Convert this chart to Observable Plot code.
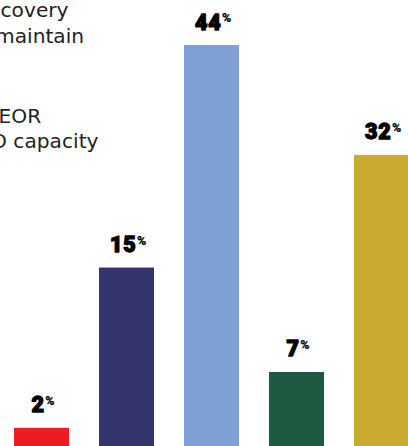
<!DOCTYPE html>
<html><head><meta charset="utf-8">
<script src="https://cdn.jsdelivr.net/npm/d3@7"></script>
<script src="https://cdn.jsdelivr.net/npm/@observablehq/plot@0.6"></script>
<style>
html,body{margin:0;padding:0;background:#fff;overflow:hidden;width:408px;height:446px}
#wrap{position:relative;width:408px;height:446px;overflow:hidden}
#legend{position:absolute;left:0;top:0;font-family:"DejaVu Sans";font-size:20.2px;line-height:24px;color:#231f20;white-space:nowrap}
#legend div{position:absolute}
</style></head><body>
<div id="wrap"><div id="chart"></div><div id="legend"></div></div>
<script>
// Data
const categories = ["A", "B", "C", "D", "E"];
const shares = [2, 15, 44, 7, 32];              // printed percentage labels
const barLengths = [2.2, 19.7, 44, 8.3, 32];    // bar lengths as drawn in the picture
const colors = ["#ed1c24", "#35356e", "#7fa0d5", "#1e5a42", "#c9a92f"];
const legendLines = ["covery", "maintain", "EOR", "O capacity"];

const data = categories.map((c, i) => ({cat: c, share: shares[i], len: barLengths[i], color: colors[i]}));

const plot = Plot.plot({
  width: 408,
  height: 446,
  margin: 0,
  style: {background: "transparent"},
  x: {domain: categories, range: [13, 410], paddingInner: 0.357, paddingOuter: 0, axis: null},
  y: {domain: [0, 44], range: [448, 45], axis: null},
  color: {type: "identity"},
  marks: [
    Plot.barY(data, {x: "cat", y: "len", fill: "color"}),
    Plot.text(data, {
      x: "cat", y: "len", text: d => String(d.share),
      lineAnchor: "bottom", dy: -16, dx: 1.5,
      fontSize: 21.5, fontWeight: 900, fill: "#000",
      stroke: "#000", strokeWidth: 1.3,
      fontFamily: "Roboto"
    })
  ]
});
document.getElementById("chart").appendChild(plot);

// superscript percent sign
plot.querySelectorAll('g[aria-label="text"] text').forEach(t => {
  t.style.letterSpacing = "0.8px";
  const s = document.createElementNS("http://www.w3.org/2000/svg", "tspan");
  s.textContent = "%";
  s.setAttribute("font-size", "12.5");
  s.setAttribute("stroke-width", "0.2");
  s.setAttribute("dy", "-7.5");
  s.setAttribute("dx", "0.5");
  t.appendChild(s);
});

// legend text (cropped at the left edge)
const lefts = [0.5, -5, -1.5, -9];
const tops = [-2.5, 24, 103.5, 128.5];
const leg = document.getElementById("legend");
legendLines.forEach((s, i) => {
  const d = document.createElement("div");
  d.textContent = s;
  d.style.left = lefts[i] + "px";
  d.style.top = tops[i] + "px";
  leg.appendChild(d);
});
</script>
</body></html>
